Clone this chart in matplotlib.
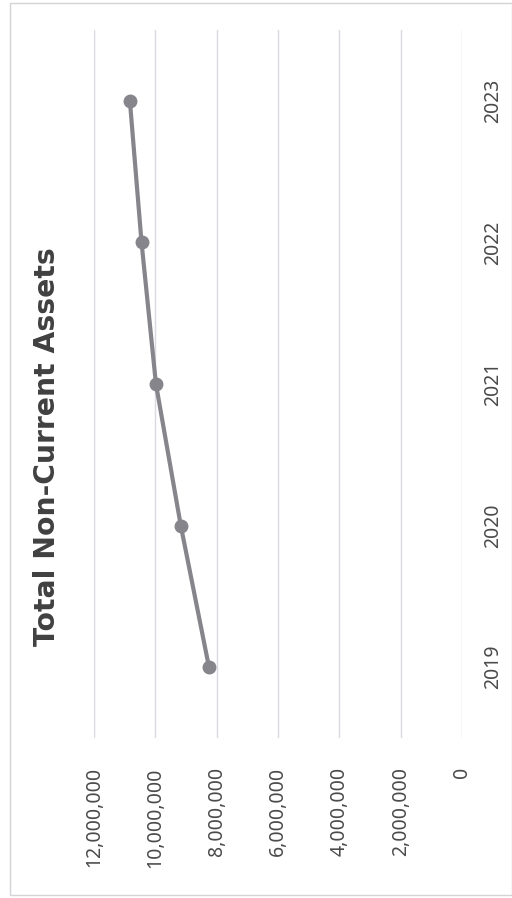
import matplotlib.pyplot as plt
from matplotlib.patches import Rectangle
from matplotlib.ticker import FuncFormatter

# Total non-current assets by year
years = ["2019", "2020", "2021", "2022", "2023"]
assets = [8250000, 9170000, 9980000, 10450000, 10830000]
value_ticks = [0, 2000000, 4000000, 6000000, 8000000, 10000000, 12000000]

W, H = 512, 898
fig = plt.figure(figsize=(W / 100, H / 100), dpi=100)
fig.patch.set_facecolor("white")

# chart frame
fig.add_artist(Rectangle((10 / W, 3 / H), (W - 10) / W, (H - 6) / H,
                         transform=fig.transFigure, fill=False,
                         edgecolor="#d4d4d8", linewidth=1.0))

# plot area; the chart is laid out sideways, so values run right-to-left
left, right, top, bottom = 94, 462, 30, 738
ax = fig.add_axes([left / W, 1 - bottom / H, (right - left) / W, (bottom - top) / H])

pos = list(range(len(years)))
ax.plot(assets, pos, color="#85858b", linewidth=3.0, marker="o",
        markersize=9, zorder=3)

ax.set_xlim(12000000, 0)
ax.set_ylim(-0.5, len(years) - 0.5)
ax.set_xticks(value_ticks)
ax.xaxis.set_major_formatter(FuncFormatter(lambda v, _: f"{int(v):,}"))
ax.grid(axis="x", color="#d9d9e2", linewidth=1.0)
ax.set_axisbelow(True)
for s in ax.spines.values():
    s.set_visible(False)

ax.tick_params(axis="x", length=0, pad=21, labelsize=14, labelcolor="#4a4a4a",
               labelrotation=90)
ax.yaxis.tick_right()
ax.set_yticks(pos)
ax.set_yticklabels(years)
ax.tick_params(axis="y", length=0, pad=15, labelsize=14, labelcolor="#4a4a4a")
for lbl in ax.get_yticklabels():
    lbl.set_rotation(90)
    lbl.set_va("center")
for lbl in ax.get_xticklabels() + ax.get_yticklabels():
    lbl.set_fontfamily("Noto Sans")

fig.text(47 / W, 1 - 447 / H, "Total Non-Current Assets", rotation=90,
         ha="center", va="center", fontsize=20.3, fontweight="bold",
         color="#404040", family="DejaVu Sans")

fig.savefig("out.png", dpi=100)
